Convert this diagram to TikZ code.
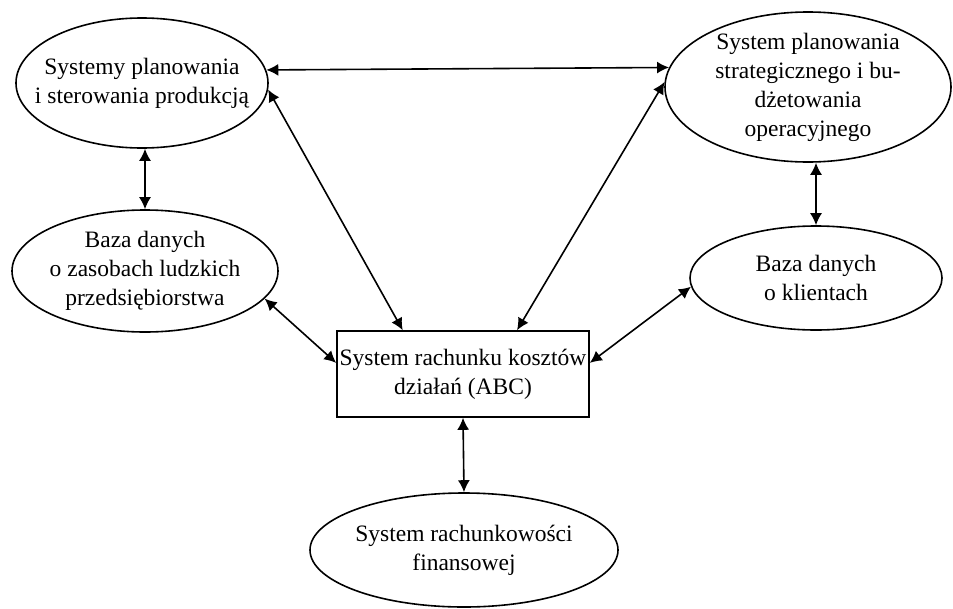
\documentclass[tikz,border=0pt]{standalone}
\usepackage{fontspec}
\setmainfont{Liberation Serif}
\usetikzlibrary{shapes.geometric,arrows.meta}
\begin{document}
\begin{tikzpicture}[x=1pt,y=-1pt,
  every node/.style={font=\fontsize{23.5}{29}\selectfont, align=center, inner sep=0pt},
  oval/.style={draw, ellipse, line width=1.6pt},
  box/.style={draw, rectangle, line width=1.6pt},
  tip/.style={Latex[length=12pt,width=12pt]},
  link/.style={line width=1.6pt, {Latex[length=12pt,width=12pt]}-{Latex[length=12pt,width=12pt]}}]
\useasboundingbox (0,0) rectangle (953,608);

% outlines of the information systems (fixed sizes)
\node[oval, minimum width=252pt, minimum height=130pt] (prod) at (142,83) {};
\node[oval, minimum width=266pt, minimum height=122pt] (hr) at (145,271) {};
\node[oval, minimum width=286pt, minimum height=150pt] (plan) at (808,87) {};
\node[oval, minimum width=252pt, minimum height=104pt] (cli) at (816,278) {};
\node[box, minimum width=252pt, minimum height=86pt] (abc) at (463,374) {};
\node[oval, minimum width=308pt, minimum height=114pt] (fin) at (464,550) {};

% their labels
\node (prodtxt) at (prod) {Systemy planowania\\i sterowania produkcją};
\node (hrtxt) at (hr) {Baza danych\\o zasobach ludzkich\\przedsiębiorstwa};
\node (plantxt) at (plan) {System planowania\\strategicznego i bu-\\dżetowania\\operacyjnego};
\node (clitxt) at (cli) {Baza danych\\o klientach};
\node (abctxt) at (abc) {System rachunku kosztów\\działań (ABC)};
\node (fintxt) at (fin) {System rachunkowości\\finansowej};

% two-way data flows
\draw[link] (prod.6.5) -- (plan.172.6);
\draw[link] (prod.-3) -- (abc.144.4);
\draw[link] (plan.178) -- (abc.39.6);
\draw[link] (hr.north) -- (hr.north |- prod.south);
\draw[link] (cli.north) -- (cli.north |- plan.south);
\draw[link] (hr.-13) -- (abc.175);
\draw[link] (cli.184) -- (abc.5);
\draw[link] (abc.south) -- (fin.north);
\end{tikzpicture}
\end{document}
